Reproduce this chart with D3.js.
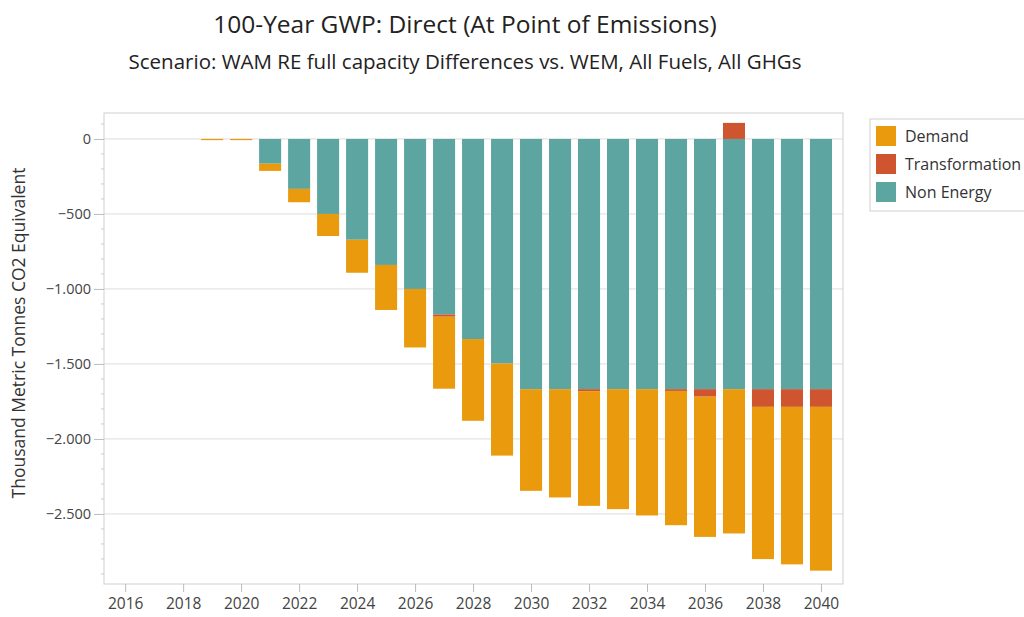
<!DOCTYPE html>
<html>
<head>
<meta charset="utf-8">
<script src="https://cdn.jsdelivr.net/npm/d3@7"></script>
<style>
  html, body { margin: 0; padding: 0; background: #fff; }
  svg { display: block; font-family: "Open Sans", "Noto Sans", sans-serif; }
</style>
</head>
<body>
<svg id="chart" width="1024" height="617"></svg>
<script>
// Emission differences by year (thousand metric tonnes CO2e)
const years = [2016, 2017, 2018, 2019, 2020, 2021, 2022, 2023, 2024, 2025, 2026, 2027, 2028,
               2029, 2030, 2031, 2032, 2033, 2034, 2035, 2036, 2037, 2038, 2039, 2040];
const nonEnergy = [0, 0, 0, 0, 0, -165, -333, -500, -672, -840, -1000, -1170, -1334,
                   -1497, -1668, -1668, -1668, -1668, -1668, -1668, -1668, -1668, -1668, -1668, -1668];
const transformation = [0, 0, 0, 0, 0, 0, 0, 0, 0, 0, 0, -15, 0,
                        0, 0, 0, -13, 0, 0, -12, -50, 107, -118, -118, -118];
const demand = [0, 0, 0, -8, -8, -48, -89, -147, -220, -300, -390, -480, -545,
                -614, -678, -722, -765, -800, -842, -895, -935, -962, -1015, -1050, -1092];

const seriesNames = ["Demand", "Transformation", "Non Energy"];
const stackOrder = ["Non Energy", "Transformation", "Demand"];
const xTickYears = [2016, 2018, 2020, 2022, 2024, 2026, 2028, 2030, 2032, 2034, 2036, 2038, 2040];
const yTicks = [0, -500, -1000, -1500, -2000, -2500];

const colors = { "Demand": "#E99A0D", "Transformation": "#CF5430", "Non Energy": "#5CA5A0" };

const rows = years.map((yr, i) => ({
  year: yr,
  "Non Energy": nonEnergy[i],
  "Transformation": transformation[i],
  "Demand": demand[i]
}));

const svg = d3.select("#chart");
const plot = { left: 104, right: 843, top: 113, bottom: 584 };

const x = d3.scaleLinear().domain([2015.27, 2040.76]).range([plot.left, plot.right]);
const y = d3.scaleLinear().domain([-2967, 173]).range([plot.bottom, plot.top]);
const barW = (x(2017) - x(2016)) * 0.76;

// Titles
svg.append("text")
  .attr("x", 465).attr("y", 33)
  .attr("text-anchor", "middle")
  .attr("font-size", 24.5).attr("fill", "#222")
  .text("100-Year GWP: Direct (At Point of Emissions)");
svg.append("text")
  .attr("x", 465).attr("y", 69)
  .attr("text-anchor", "middle")
  .attr("font-size", 20.5).attr("fill", "#222")
  .text("Scenario: WAM RE full capacity Differences vs. WEM, All Fuels, All GHGs");

// Gridlines
svg.append("g")
  .selectAll("line").data(yTicks).join("line")
  .attr("x1", plot.left).attr("x2", plot.right)
  .attr("y1", d => y(d)).attr("y2", d => y(d))
  .attr("stroke", "#dcdcdc").attr("stroke-width", 1);

// Stacked bars
const stack = d3.stack().keys(stackOrder).offset(d3.stackOffsetDiverging);
const layers = stack(rows);
svg.append("g")
  .selectAll("g").data(layers).join("g")
  .attr("fill", d => colors[d.key])
  .selectAll("rect").data(d => d).join("rect")
  .attr("x", d => x(d.data.year) - barW / 2)
  .attr("width", barW)
  .attr("y", d => y(Math.max(d[0], d[1])))
  .attr("height", d => Math.abs(y(d[0]) - y(d[1])));

// Plot frame
svg.append("rect")
  .attr("x", plot.left).attr("y", plot.top)
  .attr("width", plot.right - plot.left).attr("height", plot.bottom - plot.top)
  .attr("fill", "none").attr("stroke", "#cfcfcf");

// Y axis
const fmt = v => d3.format(",")(v).replace(/,/g, ".");
const yAxis = d3.axisLeft(y).tickValues(yTicks).tickFormat(fmt).tickSize(10).tickPadding(3);
const gy = svg.append("g").attr("transform", `translate(${plot.left},0)`).call(yAxis);
gy.select(".domain").remove();
gy.selectAll(".tick line").attr("stroke", "#bbb");
gy.selectAll(".tick text").attr("font-size", 14.5).attr("fill", "#444")
  .attr("font-family", "'Open Sans', sans-serif");
const minor = d3.range(100, 2967, 100).map(v => -v).concat([100]).filter(v => v % 500 !== 0);
svg.append("g").selectAll("line").data(minor).join("line")
  .attr("x1", plot.left - 3).attr("x2", plot.left)
  .attr("y1", d => y(d)).attr("y2", d => y(d))
  .attr("stroke", "#ccc");

// X axis
const xAxis = d3.axisBottom(x).tickValues(xTickYears).tickFormat(d3.format("d")).tickSize(8).tickPadding(6);
const gx = svg.append("g").attr("transform", `translate(0,${plot.bottom})`).call(xAxis);
gx.select(".domain").remove();
gx.selectAll(".tick line").attr("stroke", "#bbb");
gx.selectAll(".tick text").attr("font-size", 15.5).attr("fill", "#444")
  .attr("font-family", "'Open Sans', sans-serif");

// Y axis title
svg.append("text")
  .attr("transform", `translate(25,333) rotate(-90)`)
  .attr("text-anchor", "middle")
  .attr("font-size", 17.5).attr("fill", "#333")
  .text("Thousand Metric Tonnes CO2 Equivalent");

// Legend
const lg = svg.append("g");
lg.append("rect")
  .attr("x", 870).attr("y", 119).attr("width", 170).attr("height", 92)
  .attr("fill", "#fff").attr("stroke", "#cfcfcf");
const items = lg.selectAll("g.item").data(seriesNames).join("g")
  .attr("transform", (d, i) => `translate(876,${126 + i * 28})`);
items.append("rect").attr("width", 20).attr("height", 20).attr("fill", d => colors[d]);
items.append("text").attr("x", 29).attr("y", 15.5)
  .attr("font-size", 16).attr("fill", "#333").text(d => d);
</script>
</body>
</html>
